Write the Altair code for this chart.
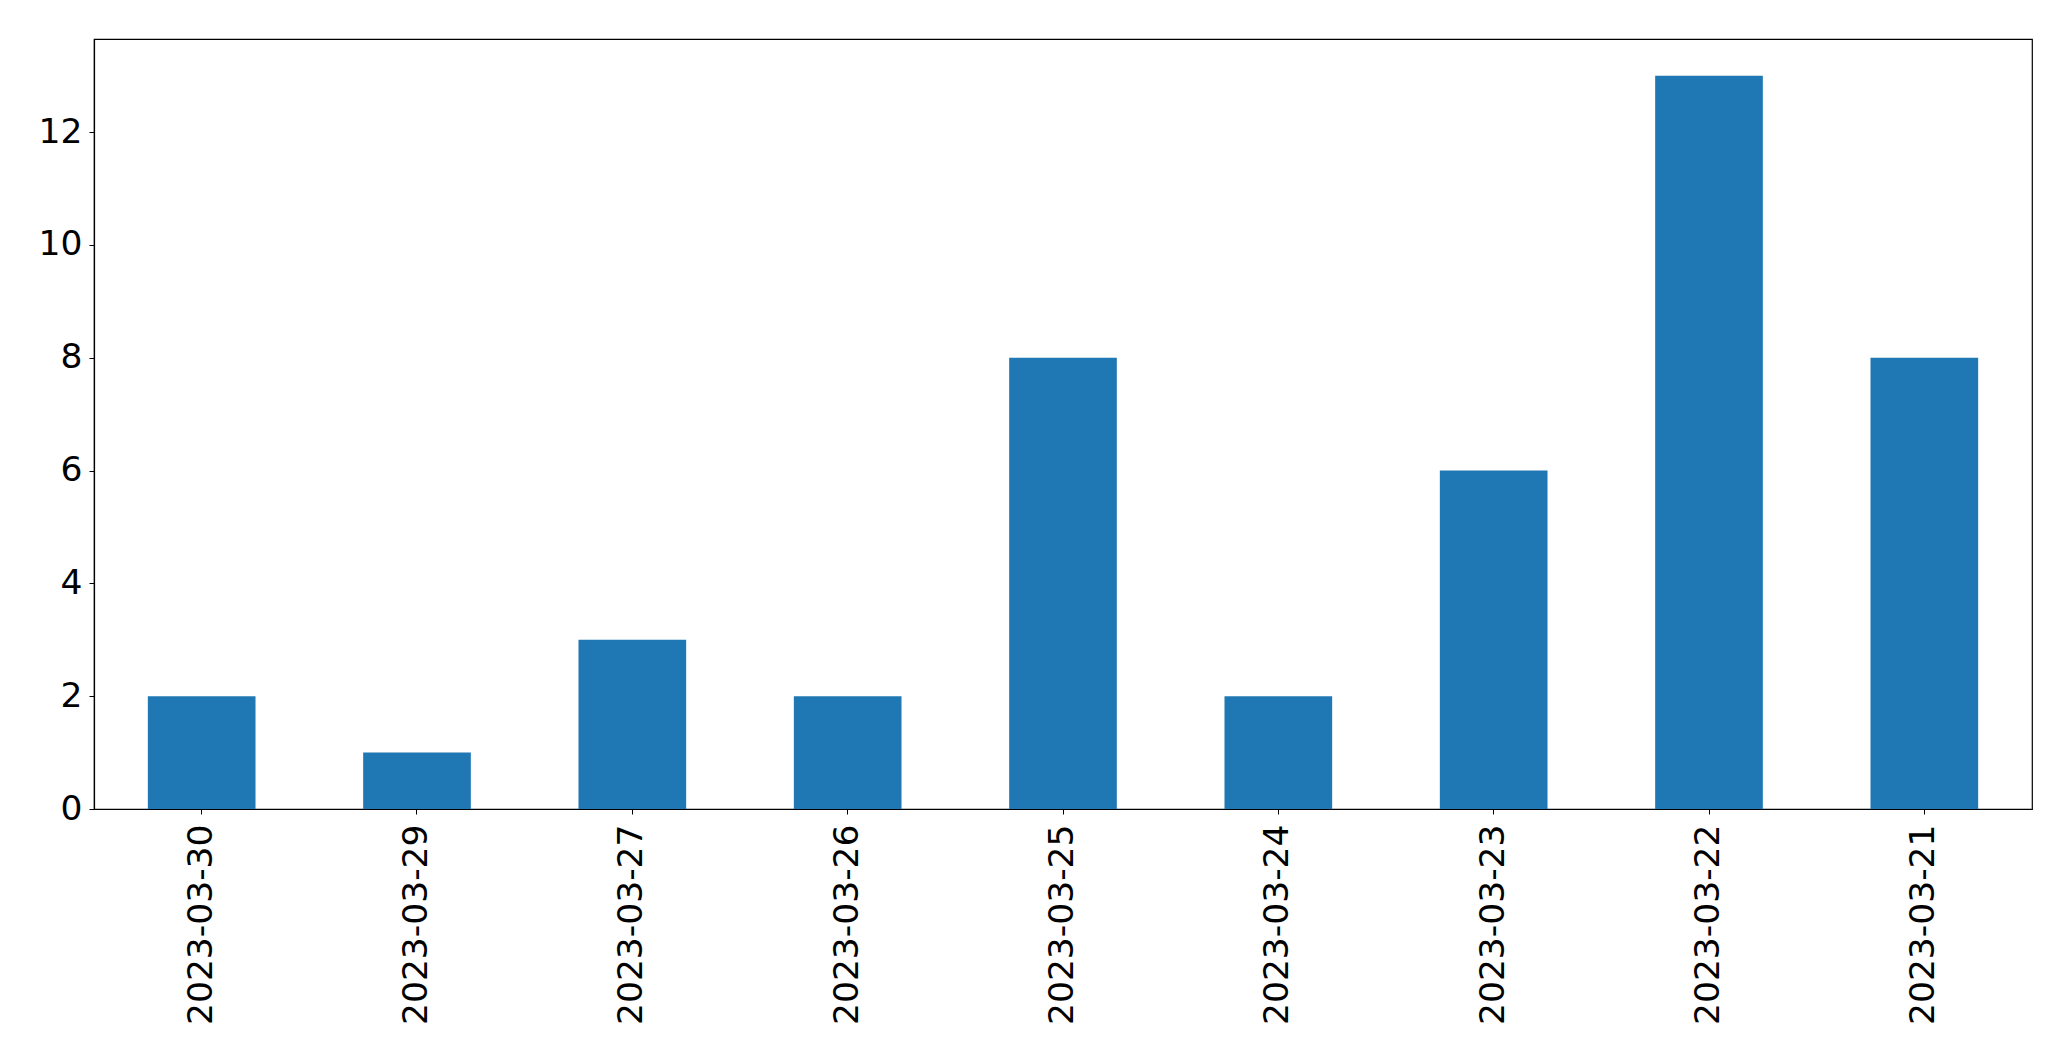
import altair as alt
import pandas as pd

dates = ["2023-03-30", "2023-03-29", "2023-03-27", "2023-03-26", "2023-03-25",
         "2023-03-24", "2023-03-23", "2023-03-22", "2023-03-21"]
counts = [2, 1, 3, 2, 8, 2, 6, 13, 8]

df = pd.DataFrame({"date": dates, "count": counts})

chart = alt.Chart(df).mark_bar(color="#1f77b4").encode(
    x=alt.X("date:N", sort=None, title=None,
            scale=alt.Scale(paddingInner=0.5, paddingOuter=0.25),
            axis=alt.Axis(labelAngle=-90, labelAlign="right", labelBaseline="middle",
                          labelFont="DejaVu Sans", labelFontSize=34.5, labelColor="black",
                          labelPadding=10, tickSize=5, tickColor="black", labelLimit=500,
                          domainColor="black", domainWidth=1.2, labelOverlap=False)),
    y=alt.Y("count:Q", title=None,
            scale=alt.Scale(domain=[0, 13.65], nice=False, zero=True),
            axis=alt.Axis(values=[0, 2, 4, 6, 8, 10, 12], grid=False,
                          labelFont="DejaVu Sans", labelFontSize=34.5, labelColor="black",
                          labelPadding=7, tickSize=5, tickColor="black",
                          domainColor="black", domainWidth=1.2)),
).properties(
    width=1938, height=770,
    autosize=alt.AutoSizeParams(type="none"),
    padding={"left": 86, "top": 31, "right": 20, "bottom": 235},
).configure_view(stroke="black", strokeWidth=1.2)

chart.save("out.html", embed_options={"renderer": "svg", "actions": False})
